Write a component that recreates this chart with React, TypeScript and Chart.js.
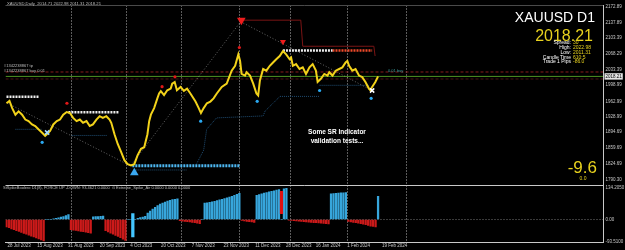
import { useEffect, useRef } from "react";
import { Chart, registerables } from "chart.js";

Chart.register(...registerables);

// ---------------- data ----------------
// bar index (daily bars, 0 = late Jul 2023) and close price of the traced close line
const closeX = [0, 1.2, 2.3, 3.6, 4.9, 6.3, 7.6, 8.9, 10.3, 11.6, 12.9, 14.3, 15.6, 16.3, 17.6, 18.9, 20.3, 21.6, 22.9, 24.3, 25.6, 26.9, 28.3, 29.6, 30.9, 32.3, 33.6, 34.9, 36.3, 37.6, 38.9, 40.3, 41.6, 42.3, 43.6, 44.9, 46.3, 47.6, 48.9, 50.3, 51.6, 52.9, 54.3, 55.6, 56.9, 57.6, 58.3, 59.6, 60.9, 61.6, 62.3, 63.6, 64.9, 66.3, 66.9, 67.9, 68.8, 70.3, 71.6, 72.9, 74.3, 76.3, 77.6, 78.5, 79.6, 80.9, 82.3, 83.6, 84.9, 86.9, 88.9, 90.9, 92.3, 93.6, 94.3, 94.9, 96.3, 96.9, 98.3, 99.6, 100.9, 101.6, 102.3, 103.6, 104.9, 106.3, 107.6, 108.9, 110.3, 111.6, 112.9, 114.3, 114.9, 115.6, 116.9, 118.3, 119.6, 120.9, 122.3, 123.6, 124.9, 125.6, 126.9, 128.3, 129.6, 130.3, 131.6, 132.9, 134.3, 135.6, 136.9, 137.6, 138.3, 139.6, 140.9, 142.3, 143.6, 144.9, 146.3, 146.9, 147.6, 148.9, 150];
const closePrices = [1958.9, 1963.9, 1948.1, 1933.6, 1941.0, 1933.6, 1922.8, 1919.3, 1912.0, 1908.5, 1901.2, 1894.1, 1886.9, 1890.4, 1897.7, 1912.0, 1919.3, 1922.8, 1933.6, 1939.4, 1937.3, 1926.5, 1919.3, 1922.8, 1915.7, 1919.3, 1908.5, 1912.0, 1922.8, 1930.2, 1926.5, 1930.2, 1922.8, 1915.7, 1890.4, 1868.8, 1850.8, 1832.9, 1824.2, 1821.2, 1824.2, 1843.7, 1858.0, 1861.6, 1890.4, 1919.3, 1933.6, 1948.1, 1969.7, 1980.5, 1985.5, 1976.8, 1987.6, 1991.3, 2002.1, 2005.8, 1987.6, 1995.0, 1986.4, 1991.3, 1980.0, 1962.6, 1948.1, 1937.3, 1948.1, 1958.9, 1962.6, 1969.7, 1980.5, 1995.0, 2002.1, 2030.9, 2041.7, 2067.0, 2052.5, 2023.7, 2020.1, 2027.4, 2020.1, 2002.1, 1980.5, 1976.2, 2009.3, 2034.6, 2030.9, 2041.7, 2049.0, 2056.2, 2063.3, 2074.1, 2067.0, 2056.2, 2059.8, 2041.7, 2045.4, 2034.6, 2038.2, 2023.7, 2038.2, 2045.4, 2030.9, 2005.8, 2012.9, 2023.7, 2020.1, 2027.4, 2020.1, 2030.9, 2034.6, 2038.2, 2049.0, 2052.5, 2041.7, 2030.9, 2034.6, 2020.1, 2016.6, 2005.8, 1991.3, 1987.6, 1995.0, 2005.8, 2018.2];

// oscillator histogram, one value per bar (0..150)
const histValues = [
  -32, -35, -40, -43, -48, -51, -55, -60, -63, -67, -71, -75, -79, -83, -88, -92,
  0, 0, 0,
  3, 5, 7, 10, 13, 17, 21,
  -44, -46, -47, -49, -51, -52, -54, -56, -58,
  12, 13, 13, 14, 15,
  -48, -53, -58, -63, -68, -73, -78, -84, -90,
  0, 0, 0, 0,
  5, 8, 10, 14, 28, 36, 45, 52, 60, 66, 71, 75, 79, 82, 85, 87, 89,
  -5, -7, -8, -9, -10, -12, -14, -16, -18,
  0,
  70, 72, 74, 76, 78, 81, 84, 87, 90, 93, 96, 100, 104, 108, 112,
  -4, -6, -8, -9, -10, -12,
  104, 107, 110, 113, 116, 119, 121, 123, 126, 128, 0, 132, 134,
  -3, -4, -5, -6, -7, -8, -9, -10, -11, -12, -13, -14, -15, -16, -17, -18, -19,
  110, 111, 112, 113, 114, 115, 116,
  -8, -10, -12, -14, -16, -18, -20, -22, -25, -28, -30, -32,
  100,
];
// spike bars (floating)
const spikeX = [51, 111];
const spikeLow = [-75, 25];
const spikeHigh = [25, 121];
const spikeKind = ["up", "down"];

// S/R level segments
const levelStart = [0, 25, 111.6, 131.6, 50.8];
const levelEnd = [13, 45.6, 131.6, 147.6, 94.4];
const levelPrice = [1973.4, 1938.8, 2075.6, 2075.6, 1820.6];
const levelKind = ["res", "res", "res", "broken", "sup"];

// trend lines
const trendX1 = [0.4, 50.4, 95.6];
const trendP1 = [1958.9, 1822.7, 2136.2];
const trendX2 = [49.2, 94.4, 147.6];
const trendP2 = [1822.7, 2138.3, 1987.0];

// stepped zone lines
const redStepX = [94.3, 118.8, 119.6, 148.3, 148.8];
const redStepP = [2142.6, 2142.6, 2084.9, 2084.9, 2063.3];
const blueStepX = [76.8, 79.6, 80.8, 84.8, 103.6, 104.4, 108.4, 110.4, 126.4];
const blueStepP = [1825.5, 1855.2, 1901.2, 1926.5, 1930.8, 1941.6, 1963.2, 1974.0, 1974.0];
const blueSegStart = [3.6, 26.3, 51.6, 126.4];
const blueSegEnd = [14.3, 40.8, 72.8, 146.4];
const blueSegPrice = [1901.2, 1887.6, 1811.3, 1998.5];

// signals
const redArrowX = [94.8, 111.6];
const redArrowP = [2142.6, 2095.0];
const blueArrowX = [51.6];
const blueArrowP = [1805.4];
const redDotX = [94, 62.8, 68, 24.4];
const redDotP = [2082.1, 1995.6, 2017.3, 1958.9];
const blueDotX = [14.4, 78.4, 101.2, 126.4, 147.2];
const blueDotP = [1872.4, 1919.3, 1963.2, 1987.0, 1969.7];
const crossX = [16.4, 147.6];
const crossP = [1894.1, 1987.0];

// horizontal price lines
const currentPrice = 2018.21;
const orderLinePrices = [2028.0, 2012.5];

// axes
const dateTicks = [0.4, 12.4, 24.8, 37.6, 50, 62.4, 74.8, 87.6, 100.4, 112.8, 124.8, 137.6, 151.6];
const dateLabels = ["28 Jul 2023", "15 Aug 2023", "31 Aug 2023", "20 Sep 2023", "4 Oct 2023", "20 Oct 2023", "7 Nov 2023", "23 Nov 2023", "11 Dec 2023", "28 Dec 2023", "16 Jan 2024", "1 Feb 2024", "19 Feb 2024"];
const gridBars = [26.4, 48.4, 70.8, 94, 114.8, 137.8, 161.6];
const priceTicks = [2172.89, 2137.89, 2103.39, 2068.29, 2033.39, 1998.99, 1962.99, 1928.99, 1894.69, 1859.69, 1824.69, 1790.3];
const oscTicks = [134.205, 0, -93.51];
const oscTickLabels = ["134.2050", "0.00", "-93.5100"];

// texts
const headerText = "XAUUSD,Daily  2014.71 2022.98 2011.31 2018.21";
const orderTexts = ["#1342238867 tp", "#1342238867 buy 0.01"];
const infoLabels = ["Spread:", "High:", "Low:", "Candle Time", "Trade 1 Pips"];
const infoValues = ["30", "2022.98", "2011.31", "610:5", "-86.0"];
const subTitle = "StSpikeBoolero D1(8), FORCE UP -DOWN: 93.4621 0.0000  \u2299 Extreme_Spike_Air 0.0000 0.0000 0.0000";

// ---------------- chart ----------------
const X_MIN = -0.4;
const X_MAX = 240.8;
const Y_MAX = 2175.05;
const Y_MIN = 1777.33;
const Y2_MAX = 146.7;
const Y2_MIN = -96.4;
const FONT = '"Liberation Sans", Arial, sans-serif';
const AXIS_TXT = "#c8c8c8";
const YELLOW = "#f2d21a";

const overlayPlugin = {
  id: "overlayText",
  afterDraw(chart: any) {
    const ctx = chart.ctx as CanvasRenderingContext2D;
    ctx.save();
    const put = (text: string, x: number, y: number, size: number, color: string, align: CanvasTextAlign = "left", weight = "normal") => {
      ctx.font = `${weight} ${size}px ${FONT}`;
      ctx.fillStyle = color;
      ctx.textAlign = align;
      ctx.textBaseline = "middle";
      ctx.fillText(text, x, y);
    };
    put(headerText, 7, 4, 4.2, "#bdbdbd");
    put(orderTexts[0], 4, 66, 4, "#bdbdbd");
    put(orderTexts[1], 4, 70.7, 4, "#bdbdbd");
    put("0.01 buy", 388, 71, 4, "#3a9c9c");
    put("XAUUSD D1", 595, 18, 14, "#ffffff", "right");
    put("2018.21", 593, 37, 16, "#e8d21e", "right");
    const infoY = [43, 48, 53, 57.5, 62];
    infoLabels.forEach((l, i) => {
      put(l, 571, infoY[i], 5, "#ffffff", "right");
      put(infoValues[i], 573, infoY[i], 5, "#e8d21e", "left");
    });
    put("Some SR Indicator", 337, 132.5, 6.5, "#ffffff", "center", "bold");
    put("validation tests...", 337, 141, 6.5, "#ffffff", "center", "bold");
    put("-9.6", 597, 168, 17, "#e8d21e", "right");
    put("0.0", 583, 179, 5, "#e8d21e", "center");
    put(subTitle, 3, 187.5, 4, "#bdbdbd");
    ctx.restore();
  },
};

function seg(x1: number, y1: number, x2: number, y2: number) {
  return [{ x: x1, y: y1 }, { x: x2, y: y2 }];
}

function buildConfig(): any {
  const pts = (xs: number[], ys: number[]) => xs.map((x, i) => ({ x, y: ys[i] }));
  const lineBase = { type: "line", pointRadius: 0, tension: 0, fill: false, yAxisID: "y", xAxisID: "x" };
  const levelStyle: Record<string, any> = {
    res: { borderColor: "#eeeeee", borderWidth: 2.5, borderDash: [2, 1] },
    broken: { borderColor: "#ee4a2a", borderWidth: 2.5, borderDash: [2, 1] },
    sup: { borderColor: "#4db6f0", borderWidth: 3, borderDash: [2, 1] },
  };

  const datasets: any[] = [
    { ...lineBase, showLine: false, data: pts(redArrowX, redArrowP), pointStyle: "triangle", rotation: 180, pointRadius: [5, 3.5], pointBackgroundColor: "#ee1c1c", pointBorderWidth: 0 },
    { ...lineBase, showLine: false, data: pts(blueArrowX, blueArrowP), pointStyle: "triangle", pointRadius: 5, pointBackgroundColor: "#3aa8f0", pointBorderWidth: 0 },
    { ...lineBase, showLine: false, data: pts(crossX, crossP), pointStyle: "crossRot", pointRadius: 3, pointBorderColor: ["#9fd8ff", "#ffffff"], pointBorderWidth: 1.5 },
    { ...lineBase, showLine: false, data: pts(redDotX, redDotP), pointStyle: "circle", pointRadius: 1.6, pointBackgroundColor: "#e01818", pointBorderWidth: 0 },
    { ...lineBase, showLine: false, data: pts(blueDotX, blueDotP), pointStyle: "circle", pointRadius: 1.6, pointBackgroundColor: "#2aa8f0", pointBorderWidth: 0 },
    { ...lineBase, data: pts(closeX, closePrices), borderColor: YELLOW, borderWidth: 2 },
  ];
  levelStart.forEach((s, i) => {
    datasets.push({ ...lineBase, data: seg(s, levelPrice[i], levelEnd[i], levelPrice[i]), ...levelStyle[levelKind[i]] });
  });
  trendX1.forEach((x, i) => {
    datasets.push({ ...lineBase, data: seg(x, trendP1[i], trendX2[i], trendP2[i]), borderColor: "rgba(170,170,170,0.6)", borderWidth: 1, borderDash: [1, 2] });
  });
  datasets.push({ ...lineBase, data: pts(redStepX, redStepP), borderColor: "#7a1414", borderWidth: 1 });
  datasets.push({ ...lineBase, data: pts(blueStepX, blueStepP), borderColor: "#1f4d73", borderWidth: 1, borderDash: [1, 1] });
  blueSegStart.forEach((s, i) => {
    datasets.push({ ...lineBase, data: seg(s, blueSegPrice[i], blueSegEnd[i], blueSegPrice[i]), borderColor: "#1f4d73", borderWidth: 1, borderDash: [1, 1] });
  });
  datasets.push({ ...lineBase, data: seg(X_MIN, currentPrice, X_MAX, currentPrice), borderColor: "#4f8f22", borderWidth: 1 });
  orderLinePrices.forEach((p, i) => {
    datasets.push({ ...lineBase, data: seg(X_MIN, p, X_MAX, p), borderColor: i === 0 ? "#8a1c1c" : "#4a1414", borderWidth: 1, borderDash: [3, 2] });
  });
  // lower pane
  datasets.push({
    type: "bar", yAxisID: "y2", xAxisID: "x", grouped: false, barThickness: 2.6, borderWidth: 0,
    data: spikeX.map((x, i) => ({ x, y: [spikeLow[i], spikeHigh[i]] })),
    backgroundColor: spikeKind.map((k) => (k === "up" ? "#44c6ff" : "#e01010")),
  });
  datasets.push({
    type: "bar", yAxisID: "y2", xAxisID: "x", grouped: false, barThickness: 1.6, borderWidth: 0,
    data: histValues.map((v, i) => ({ x: i, y: v })),
    backgroundColor: histValues.map((v) => (v >= 0 ? "#37a6dc" : "#cc1a1a")),
  });
  datasets.push({ type: "line", yAxisID: "y2", xAxisID: "x", pointRadius: 0, data: seg(X_MIN, 0, X_MAX, 0), borderColor: "#777777", borderWidth: 1, borderDash: [1, 2] });

  const tickFont = { size: 4.5, family: FONT };

  return {
    type: "line",
    data: { datasets },
    plugins: [overlayPlugin],
    options: {
      responsive: false,
      devicePixelRatio: 1,
      animation: false,
      events: [],
      layout: { padding: 0 },
      plugins: { legend: { display: false }, tooltip: { enabled: false }, title: { display: false } },
      scales: {
        x: {
          type: "linear", min: X_MIN, max: X_MAX, offset: false, position: "bottom",
          grid: { display: false, offset: false, drawTicks: false },
          border: { display: true, color: AXIS_TXT, width: 1 },
          ticks: {
            autoSkip: false, maxRotation: 0, minRotation: 0, align: "start", color: AXIS_TXT, font: tickFont, padding: 1.5,
            callback: (_v: number, i: number) => dateLabels[i] ?? "",
          },
          afterBuildTicks: (s: any) => { s.ticks = dateTicks.map((v) => ({ value: v })); },
          afterFit: (s: any) => { s.height = 8; },
        },
        xg: {
          type: "linear", min: X_MIN, max: X_MAX, offset: false, position: "bottom", display: true,
          grid: { display: true, drawOnChartArea: true, drawTicks: false, offset: false, color: "rgba(215,215,215,0.85)", lineWidth: 1 },
          border: { display: false, dash: [1, 2] },
          ticks: { display: false },
          afterBuildTicks: (s: any) => { s.ticks = gridBars.map((v) => ({ value: v })); },
          afterFit: (s: any) => { s.height = 0; },
        },
        y: {
          type: "linear", position: "right", stack: "panes", stackWeight: 184, min: Y_MIN, max: Y_MAX,
          grid: { drawTicks: false, color: (c: any) => (c.tick && c.tick.value === Y_MAX ? "#4a4a4a" : "rgba(0,0,0,0)") },
          border: { display: true, color: AXIS_TXT, width: 1 },
          ticks: {
            autoSkip: false, padding: 2.5, font: tickFont,
            color: (c: any) => (c.tick && c.tick.value === currentPrice ? "#000000" : AXIS_TXT),
            showLabelBackdrop: (c: any) => !!(c.tick && c.tick.value === currentPrice),
            backdropColor: "#e6e6e6",
            backdropPadding: { top: 0.5, bottom: 0.5, left: 1, right: 1 },
            callback: (v: number) => (v === Y_MAX ? "" : v.toFixed(2)),
          },
          afterBuildTicks: (s: any) => {
            const vals = [...priceTicks, currentPrice, Y_MAX].sort((a, b) => a - b);
            s.ticks = vals.map((v) => ({ value: v }));
          },
          afterFit: (s: any) => { s.width = 22; },
        },
        y2: {
          type: "linear", position: "right", stack: "panes", stackWeight: 58, min: Y2_MIN, max: Y2_MAX,
          grid: { drawTicks: false, color: (c: any) => (c.tick && c.tick.value === Y2_MAX ? AXIS_TXT : "rgba(0,0,0,0)") },
          border: { display: true, color: AXIS_TXT, width: 1 },
          ticks: {
            autoSkip: false, padding: 2.5, font: tickFont, color: AXIS_TXT,
            callback: (v: number) => {
              const i = oscTicks.indexOf(v);
              return i >= 0 ? oscTickLabels[i] : "";
            },
          },
          afterBuildTicks: (s: any) => {
            const vals = [...oscTicks, Y2_MAX].sort((a, b) => a - b);
            s.ticks = vals.map((v) => ({ value: v }));
          },
          afterFit: (s: any) => { s.width = 22; },
        },
      },
    },
  };
}

export default function App() {
  const ref = useRef<HTMLCanvasElement>(null);
  useEffect(() => {
    const canvas = ref.current;
    if (!canvas) return;
    const chart = new Chart(canvas, buildConfig());
    return () => chart.destroy();
  }, []);
  return (
    <div style={{ position: "fixed", left: 0, top: 0, width: 625, height: 250, background: "#000", overflow: "hidden" }}>
      <canvas ref={ref} width={625} height={250} style={{ display: "block", width: 625, height: 250 }} />
    </div>
  );
}
